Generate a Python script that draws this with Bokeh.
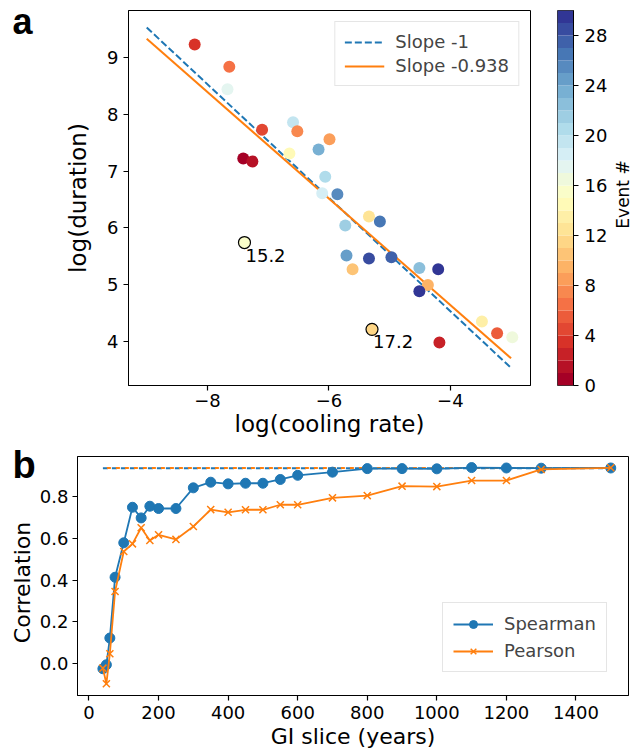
import numpy as np
from bokeh.plotting import figure
from bokeh.layouts import column, row
from bokeh.models import (Range1d, FixedTicker, CustomJSTickFormatter, PrintfTickFormatter,
                          Legend, LegendItem)
from bokeh.embed import file_html
from bokeh.resources import INLINE
from bokeh.core.properties import value

# ---------------- Panel a data ----------------
log_cooling = [-8.21, -7.64, -7.67, -7.10, -6.59, -6.52, -5.99, -7.41, -7.26, -6.65,
               -6.17, -6.06, -6.11, -5.86, -5.34, -5.16, -5.73, -5.71, -5.34, -5.61,
               -4.97, -4.51, -4.20, -4.37, -4.51, -3.48, -3.23, -2.98, -4.18]
log_duration = [9.23, 8.84, 8.44, 7.73, 7.86, 7.70, 7.56, 7.22, 7.17, 7.31,
                7.38, 6.90, 6.61, 6.59, 6.20, 6.11, 6.04, 5.51, 5.46, 5.27,
                5.48, 5.29, 5.27, 4.99, 4.88, 4.35, 4.14, 4.07, 3.98]
event_no = [3, 6, 17, 4, 19, 7, 8, 0, 1, 14,
            23, 20, 18, 25, 12, 26, 21, 24, 28, 10,
            27, 22, 29, 9, 29, 13, 5, 16, 2]

hl_cooling = [-7.39, -5.29]
hl_duration = [5.74, 4.21]
hl_event = [15, 11]
hl_labels = ["15.2", "17.2"]

fit_x = [-9.0, -3.0]
slope1_y = [9.53, 3.53]
slope2_y = [9.33, 3.70]

cbar_ticks = [0, 4, 8, 12, 16, 20, 24, 28]
EVENT_MAX = 30

# ---------------- Panel b data ----------------
gi_slice = [40, 50, 60, 75, 100, 125, 150, 175, 200, 250, 300, 350, 400, 450, 500,
            550, 600, 700, 800, 900, 1000, 1100, 1200, 1300, 1500]
spearman = [-0.024, -0.005, 0.123, 0.414, 0.579, 0.749, 0.698, 0.754, 0.743, 0.743,
            0.842, 0.869, 0.861, 0.864, 0.864, 0.882, 0.902, 0.917, 0.934, 0.934,
            0.933, 0.939, 0.937, 0.936, 0.937]
pearson = [-0.021, -0.096, 0.048, 0.346, 0.537, 0.574, 0.651, 0.590, 0.617, 0.595,
           0.657, 0.738, 0.725, 0.737, 0.737, 0.761, 0.761, 0.794, 0.805, 0.850,
           0.848, 0.877, 0.877, 0.930, 0.938]
ref_x = [40, 1500]
full_spearman = [0.936, 0.936]
full_pearson = [0.937, 0.937]

# ---------------- colours ----------------
RDYLBU = ["#a50026", "#d73027", "#f46d43", "#fdae61", "#fee090", "#ffffbf",
          "#e0f3f8", "#abd9e9", "#74add1", "#4575b4", "#313695"]
_stops = np.array([[int(h[i:i + 2], 16) for i in (1, 3, 5)] for h in RDYLBU], float)
_pos = np.linspace(0, 1, len(RDYLBU))


def cmap(t):
    rgb = [np.interp(t, _pos, _stops[:, k]) for k in range(3)]
    return "#%02x%02x%02x" % tuple(int(round(c)) for c in rgb)


N_LEVELS = 30
palette = [cmap(i / (N_LEVELS - 1)) for i in range(N_LEVELS)]


def color_for(v):
    idx = int(np.floor(v / EVENT_MAX * N_LEVELS))
    return palette[min(max(idx, 0), N_LEVELS - 1)]


BLUE = "#1f77b4"
ORANGE = "#ff7f0e"
FONT = "DejaVu Sans"
BOLD = "Liberation Sans"


def style(p, label_size="23px"):
    p.outline_line_color = "black"
    p.outline_line_width = 1
    p.xgrid.visible = False
    p.ygrid.visible = False
    for ax in p.axis:
        ax.axis_line_color = "black"
        ax.major_tick_line_color = "black"
        ax.major_tick_line_width = 1.2
        ax.major_tick_out = 5
        ax.major_tick_in = 0
        ax.minor_tick_line_color = None
        ax.major_label_text_font = FONT
        ax.major_label_text_font_size = "18px"
        ax.major_label_text_color = "black"
        ax.axis_label_text_font = FONT
        ax.axis_label_text_font_size = label_size
        ax.axis_label_text_font_style = "normal"
        ax.axis_label_text_color = "black"


def strip(width, height):
    s = figure(width=width, height=height, x_range=Range1d(0, width), y_range=Range1d(0, height),
               title=None, output_backend="svg", toolbar_location=None, x_axis_location=None,
               y_axis_location=None, min_border=0, min_border_left=0, min_border_right=0,
               min_border_top=0, min_border_bottom=0, frame_align=False)
    s.outline_line_color = None
    s.xgrid.visible = False
    s.ygrid.visible = False
    return s


TOP_H = 442
BOT_H = 312

# ---------------- Panel a ----------------
XA = (-9.3, -2.68)
YA = (3.22, 9.83)
pa = figure(width=508, height=TOP_H, x_range=Range1d(*XA), y_range=Range1d(*YA),
            title=None, output_backend="svg", toolbar_location=None, frame_align=False,
            min_border_left=88, min_border_right=18, min_border_top=10, min_border_bottom=57)
style(pa)
pa.xaxis.ticker = FixedTicker(ticks=[-8, -6, -4])
pa.xaxis.formatter = CustomJSTickFormatter(
    code="return tick < 0 ? '\\u2212' + Math.abs(tick) : String(tick);")
pa.yaxis.ticker = FixedTicker(ticks=[4, 5, 6, 7, 8, 9])
pa.xaxis.axis_label = "log(cooling rate)"
pa.yaxis.axis_label = "log(duration)"
pa.xaxis.major_label_standoff = 3
pa.xaxis.axis_label_standoff = 1
pa.yaxis.major_label_standoff = 5
pa.yaxis.axis_label_standoff = 13

l1 = pa.line(fit_x, slope1_y, line_color=BLUE, line_width=2, line_dash="7 3")
l2 = pa.line(fit_x, slope2_y, line_color=ORANGE, line_width=2)
pa.scatter(log_cooling, log_duration, size=12, fill_color=[color_for(v) for v in event_no],
           line_color=None)
pa.scatter(hl_cooling, hl_duration, size=12, fill_color=[color_for(v) for v in hl_event],
           line_color="black", line_width=1.2)
pa.text(hl_cooling, hl_duration, text=hl_labels, text_font=value(FONT), text_font_size="18px",
        text_align="left", text_baseline="top", x_offset=1, y_offset=6, text_color="black")

leg_a = Legend(items=[LegendItem(label="Slope -1", renderers=[l1]),
                      LegendItem(label="Slope -0.938", renderers=[l2])],
               location="top_right")
leg_a.label_text_font = FONT
leg_a.label_text_font_size = "18px"
leg_a.border_line_color = "#cccccc"
leg_a.border_line_width = 1
leg_a.background_fill_alpha = 0.85
leg_a.glyph_width = 40
leg_a.glyph_height = 20
leg_a.spacing = 3
leg_a.padding = 9
leg_a.label_standoff = 11
leg_a.margin = 11
pa.add_layout(leg_a)

# panel letter "a"
la = strip(40, TOP_H)
la.text(x=[12], y=[TOP_H - 21], text=["a"], text_font=value(BOLD), text_font_size="36px",
        text_font_style="bold", text_align="left", text_baseline="middle",
        text_color="black")

# ---------------- Colour bar ----------------
pc = figure(width=62, height=TOP_H, x_range=Range1d(0, 1), y_range=Range1d(0, EVENT_MAX),
            title=None, output_backend="svg", toolbar_location=None, x_axis_location=None,
            y_axis_location="right", frame_align=False,
            min_border_left=9, min_border_right=35, min_border_top=10, min_border_bottom=57)
style(pc)
pc.yaxis.ticker = FixedTicker(ticks=cbar_ticks)
pc.yaxis.major_tick_out = 5
pc.yaxis.major_label_standoff = 6
levels = list(range(N_LEVELS))
pc.quad(left=0, right=1, bottom=[i * EVENT_MAX / N_LEVELS for i in levels],
        top=[(i + 1) * EVENT_MAX / N_LEVELS for i in levels], fill_color=palette,
        line_color=None)
pc.outline_line_width = 0.8

lc = strip(21, TOP_H)
lc.text(x=[12], y=[TOP_H - 194], text=["Event #"], angle=np.pi / 2, text_font=value(FONT),
        text_font_size="17px", text_align="center", text_baseline="middle",
        text_color="black")

# ---------------- Panel b ----------------
XB = (-33, 1551)
YB = (-0.152, 0.992)
pb = figure(width=595, height=BOT_H, x_range=Range1d(*XB), y_range=Range1d(*YB),
            title=None, output_backend="svg", toolbar_location=None, frame_align=False,
            min_border_left=39, min_border_right=3, min_border_top=14, min_border_bottom=59)
style(pb, "22px")
pb.xaxis.ticker = FixedTicker(ticks=[0, 200, 400, 600, 800, 1000, 1200, 1400])
pb.yaxis.ticker = FixedTicker(ticks=[0.0, 0.2, 0.4, 0.6, 0.8])
pb.yaxis.formatter = PrintfTickFormatter(format="%.1f")
pb.xaxis.axis_label = "GI slice (years)"
pb.xaxis.major_label_standoff = 5
pb.xaxis.axis_label_standoff = 2
pb.yaxis.major_label_standoff = 4

pb.line(ref_x, full_spearman, line_color=BLUE, line_width=2, line_dash="5 4")
pb.line(ref_x, full_pearson, line_color=ORANGE, line_width=2, line_dash="4 5",
        line_dash_offset=5)
sl = pb.line(gi_slice, spearman, line_color=BLUE, line_width=1.8)
ss = pb.scatter(gi_slice, spearman, marker="circle", size=10, fill_color=BLUE, line_color=BLUE)
pl = pb.line(gi_slice, pearson, line_color=ORANGE, line_width=1.8)
ps = pb.scatter(gi_slice, pearson, marker="x", size=10, line_color=ORANGE, line_width=1.5)

leg_b = Legend(items=[LegendItem(label="Spearman", renderers=[sl, ss]),
                      LegendItem(label="Pearson", renderers=[pl, ps])],
               location=(365, 23))
leg_b.label_text_font = FONT
leg_b.label_text_font_size = "18px"
leg_b.border_line_color = "#cccccc"
leg_b.border_line_width = 1
leg_b.background_fill_alpha = 0.85
leg_b.glyph_width = 40
leg_b.glyph_height = 20
leg_b.spacing = 6
leg_b.padding = 10
leg_b.label_standoff = 11
leg_b.margin = 0
pb.add_layout(leg_b)

# panel letter "b" and y-axis title of panel b
lb = strip(36, BOT_H)
lb.text(x=[12], y=[BOT_H - (464 - TOP_H)], text=["b"], text_font=value(BOLD),
        text_font_size="38px", text_font_style="bold", text_align="left",
        text_baseline="middle", text_color="black")
lb.text(x=[22], y=[754 - 582], text=["Correlation"], angle=np.pi / 2, text_font=value(FONT),
        text_font_size="22px", text_align="center", text_baseline="middle",
        text_color="black")

layout = column(row(la, pa, pc, lc), row(lb, pb))
open("out.html", "w").write(file_html(layout, INLINE))
